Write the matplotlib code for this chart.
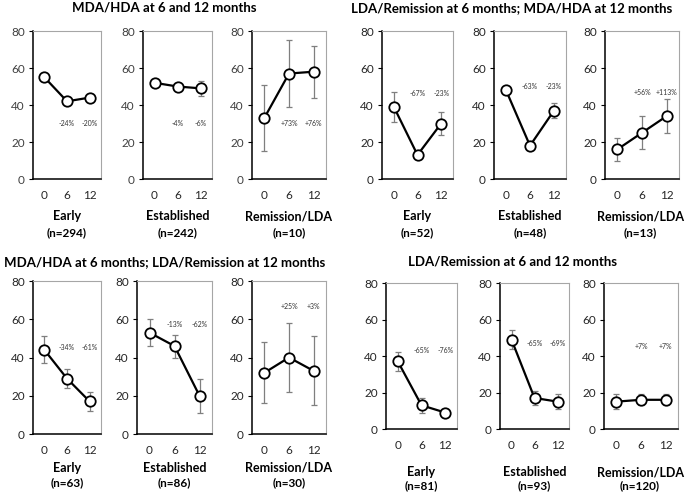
import numpy as np
import matplotlib
matplotlib.use("Agg")
import matplotlib.pyplot as plt

plt.rcParams["font.family"] = ["Lato", "DejaVu Sans"]

# ---- data ----
months = ["0", "6", "12"]
subgroups = ["Early", "Established", "Remission/LDA"]

titles = [
    "MDA/HDA at 6 and 12 months",
    "LDA/Remission at 6 months; MDA/HDA at 12 months",
    "MDA/HDA at 6 months; LDA/Remission at 12 months",
    "LDA/Remission at 6 and 12 months",
]

n_mda_mda = [294, 242, 10]
n_lda_mda = [52, 48, 13]
n_mda_lda = [63, 86, 30]
n_lda_lda = [81, 93, 120]

mean_mda_mda = [[55, 42, 44], [52, 50, 49], [33, 57, 58]]
err_mda_mda = [[2, 1, 1], [1, 1, 4], [18, 18, 14]]
pct_mda_mda = [["-24%", "-20%"], ["-4%", "-6%"], ["+73%", "+76%"]]

mean_lda_mda = [[39, 13, 30], [48, 18, 37], [16, 25, 34]]
err_lda_mda = [[8, 2, 6], [1, 2, 4], [6, 9, 9]]
pct_lda_mda = [["-67%", "-23%"], ["-63%", "-23%"], ["+56%", "+113%"]]

mean_mda_lda = [[44, 29, 17], [53, 46, 20], [32, 40, 33]]
err_mda_lda = [[7, 5, 5], [7, 6, 9], [16, 18, 18]]
pct_mda_lda = [["-34%", "-61%"], ["-13%", "-62%"], ["+25%", "+3%"]]

mean_lda_lda = [[37, 13, 9], [49, 17, 15], [15, 16, 16]]
err_lda_lda = [[5, 4, 2], [5, 4, 4], [4, 3, 3]]
pct_lda_lda = [["-65%", "-76%"], ["-65%", "-69%"], ["+7%", "+7%"]]

all_n = [n_mda_mda, n_lda_mda, n_mda_lda, n_lda_lda]
all_mean = [mean_mda_mda, mean_lda_mda, mean_mda_lda, mean_lda_lda]
all_err = [err_mda_mda, err_lda_mda, err_mda_lda, err_lda_lda]
all_pct = [pct_mda_mda, pct_lda_mda, pct_mda_lda, pct_lda_lda]

# ---- layout (pixels, origin top-left) ----
W, H = 685, 494
panel_x = [
    [(33, 101), (143, 212), (252, 326)],
    [(382, 453), (494, 566), (605, 679)],
    [(33, 101), (137, 212), (252, 326)],
    [(386, 457), (500, 569), (604, 678)],
]
panel_y = [(31, 179), (31, 179), (281, 434), (283, 429)]
title_pos = [(164, 8), (512, 8), (165, 262), (513, 262)]
name_y = [(216, 233), (216, 233), (468, 483), (472, 486)]
pct_y = [[30, 30, 30], [46, 50, 47], [45, 57.5, 66.5], [43, 47, 45]]

fig = plt.figure(figsize=(W / 100, H / 100), dpi=100)

for g in range(4):
    tx, ty = title_pos[g]
    fig.text(tx / W, 1 - ty / H, titles[g], ha="center", va="center",
             fontsize=9.5, fontweight="bold", color="#000000")
    y0, y1 = panel_y[g]
    for p in range(3):
        x0, x1 = panel_x[g][p]
        ax = fig.add_axes([x0 / W, 1 - y1 / H, (x1 - x0) / W, (y1 - y0) / H])
        xs = np.arange(3)
        ax.errorbar(xs, all_mean[g][p], yerr=all_err[g][p], fmt="none",
                    ecolor="#7f7f7f", elinewidth=0.9, capsize=2.2, capthick=0.9, zorder=2)
        ax.plot(xs, all_mean[g][p], color="black", lw=1.6, marker="o", ms=7.5,
                mfc="white", mec="black", mew=1.3, zorder=3)
        for k, lab in enumerate(all_pct[g][p]):
            ax.text(k + 1, pct_y[g][p], lab, ha="center", va="center",
                    fontsize=5, color="#333333")
        ax.set_xlim(-0.5, 2.5)
        ax.set_ylim(0, 80)
        ax.set_yticks([0, 20, 40, 60, 80])
        ax.set_xticks(xs)
        ax.set_xticklabels(months)
        ax.tick_params(axis="x", length=0, pad=8, labelsize=8.5, labelcolor="#262626")
        ax.tick_params(axis="y", length=3, width=0.8, direction="out", pad=3,
                       labelsize=8.5, labelcolor="#404040" if g == 0 else "#262626")
        ax.spines["left"].set_color("black")
        ax.spines["bottom"].set_color("black")
        ax.spines["left"].set_linewidth(1.1)
        ax.spines["bottom"].set_linewidth(1.1)
        for s in ("top", "right"):
            ax.spines[s].set_color("#a6a6a6")
            ax.spines[s].set_linewidth(0.8)
        xc = min((x0 + x1) / 2, W - 45)
        fig.text(xc / W, 1 - name_y[g][0] / H, subgroups[p], ha="center", va="center",
                 fontsize=9, fontweight="bold")
        fig.text(xc / W, 1 - name_y[g][1] / H, f"(n={all_n[g][p]})", ha="center",
                 va="center", fontsize=8.5, fontweight="bold")

fig.savefig("out.png", dpi=100)
